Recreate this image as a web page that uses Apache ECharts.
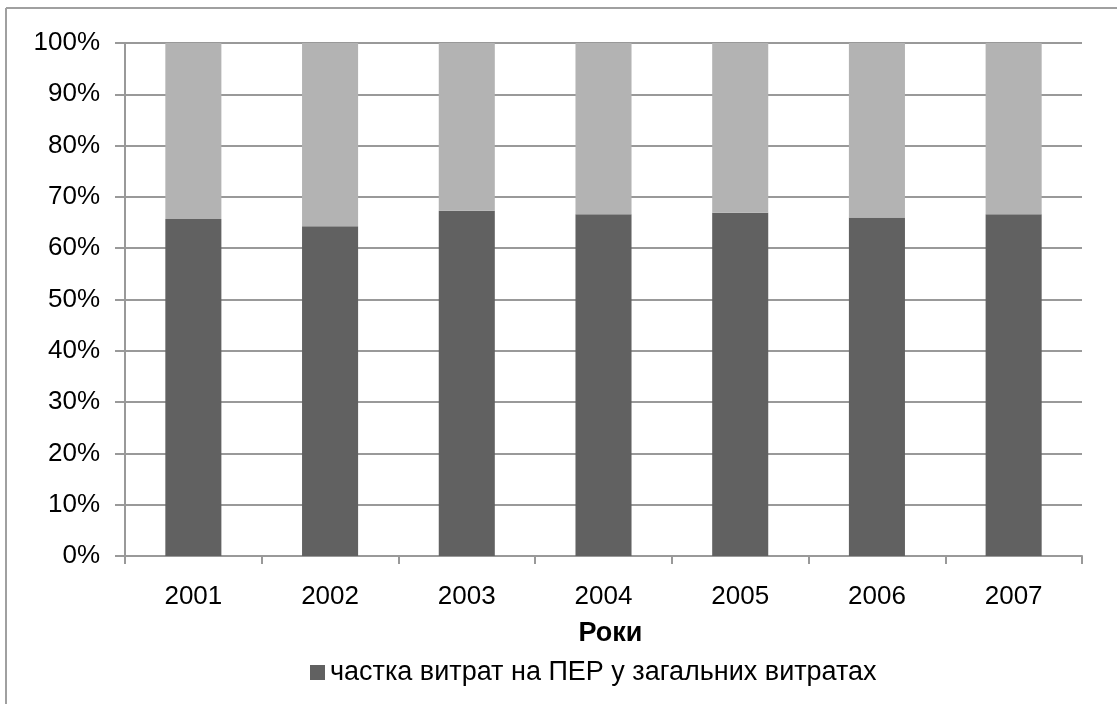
<!DOCTYPE html>
<html>
<head>
<meta charset="utf-8">
<script src="https://cdn.jsdelivr.net/npm/echarts@6/dist/echarts.min.js"></script>
<style>
  html, body { margin: 0; padding: 0; background: #fff; }
  #chart { width: 1117px; height: 704px; }
</style>
</head>
<body>
<div id="chart"></div>
<script>
const years = ['2001', '2002', '2003', '2004', '2005', '2006', '2007']
// частка витрат на ПЕР, %
const sharePer = [65.7, 64.3, 67.3, 66.6, 66.9, 66.0, 66.6]
// решта витрат, %
const shareRest = [34.3, 35.7, 32.7, 33.4, 33.1, 34.0, 33.4]
const yTicks = [0, 10, 20, 30, 40, 50, 60, 70, 80, 90, 100]

const font = '"Liberation Sans", Arial, sans-serif'
const chart = echarts.init(document.getElementById('chart'))

const option = {
  backgroundColor: '#fff',
  animation: false,
  textStyle: { fontFamily: font },
  graphic: [
    // рамка діаграми (видно лише верхній і лівий край)
    { type: 'line', shape: { x1: 6, y1: 8, x2: 1117, y2: 8 }, style: { stroke: '#a0a0a0', lineWidth: 2 } },
    { type: 'line', shape: { x1: 6, y1: 8, x2: 6, y2: 704 }, style: { stroke: '#a0a0a0', lineWidth: 2 } }
  ],
  grid: { left: 125, right: 35, top: 43, bottom: 148 },
  legend: {
    data: ['частка витрат на ПЕР у загальних витратах'],
    left: 305,
    top: 654,
    itemWidth: 15,
    itemHeight: 15,
    icon: 'rect',
    itemGap: 4,
    textStyle: { fontSize: 27, color: '#000', fontFamily: font }
  },
  xAxis: {
    type: 'category',
    data: years,
    name: 'Роки',
    nameLocation: 'middle',
    nameGap: 64,
    nameTextStyle: { fontSize: 27, fontWeight: 'bold', color: '#000', fontFamily: font, padding: [0, 0, 0, 14] },
    axisLine: { lineStyle: { color: '#999', width: 2 } },
    axisTick: { show: true, length: 8, lineStyle: { color: '#999', width: 2 } },
    axisLabel: { fontSize: 26, color: '#000', margin: 28 }
  },
  yAxis: {
    type: 'value',
    min: 0,
    max: 100,
    interval: 10,
    axisLine: { show: true, lineStyle: { color: '#999', width: 2 } },
    axisTick: { show: true, length: 10, inside: false, lineStyle: { color: '#999', width: 2 } },
    axisLabel: {
      fontSize: 26,
      color: '#000',
      margin: 25,
      formatter: v => (yTicks.includes(v) ? v + '%' : '')
    },
    splitLine: { lineStyle: { color: '#999', width: 2 } }
  },
  series: [
    {
      name: 'частка витрат на ПЕР у загальних витратах',
      type: 'bar',
      stack: 'total',
      barWidth: '41%',
      itemStyle: { color: '#616161' },
      data: sharePer
    },
    {
      name: 'решта',
      type: 'bar',
      stack: 'total',
      barWidth: '41%',
      itemStyle: { color: '#b3b3b3' },
      data: shareRest
    }
  ]
}

chart.setOption(option)
</script>
</body>
</html>
